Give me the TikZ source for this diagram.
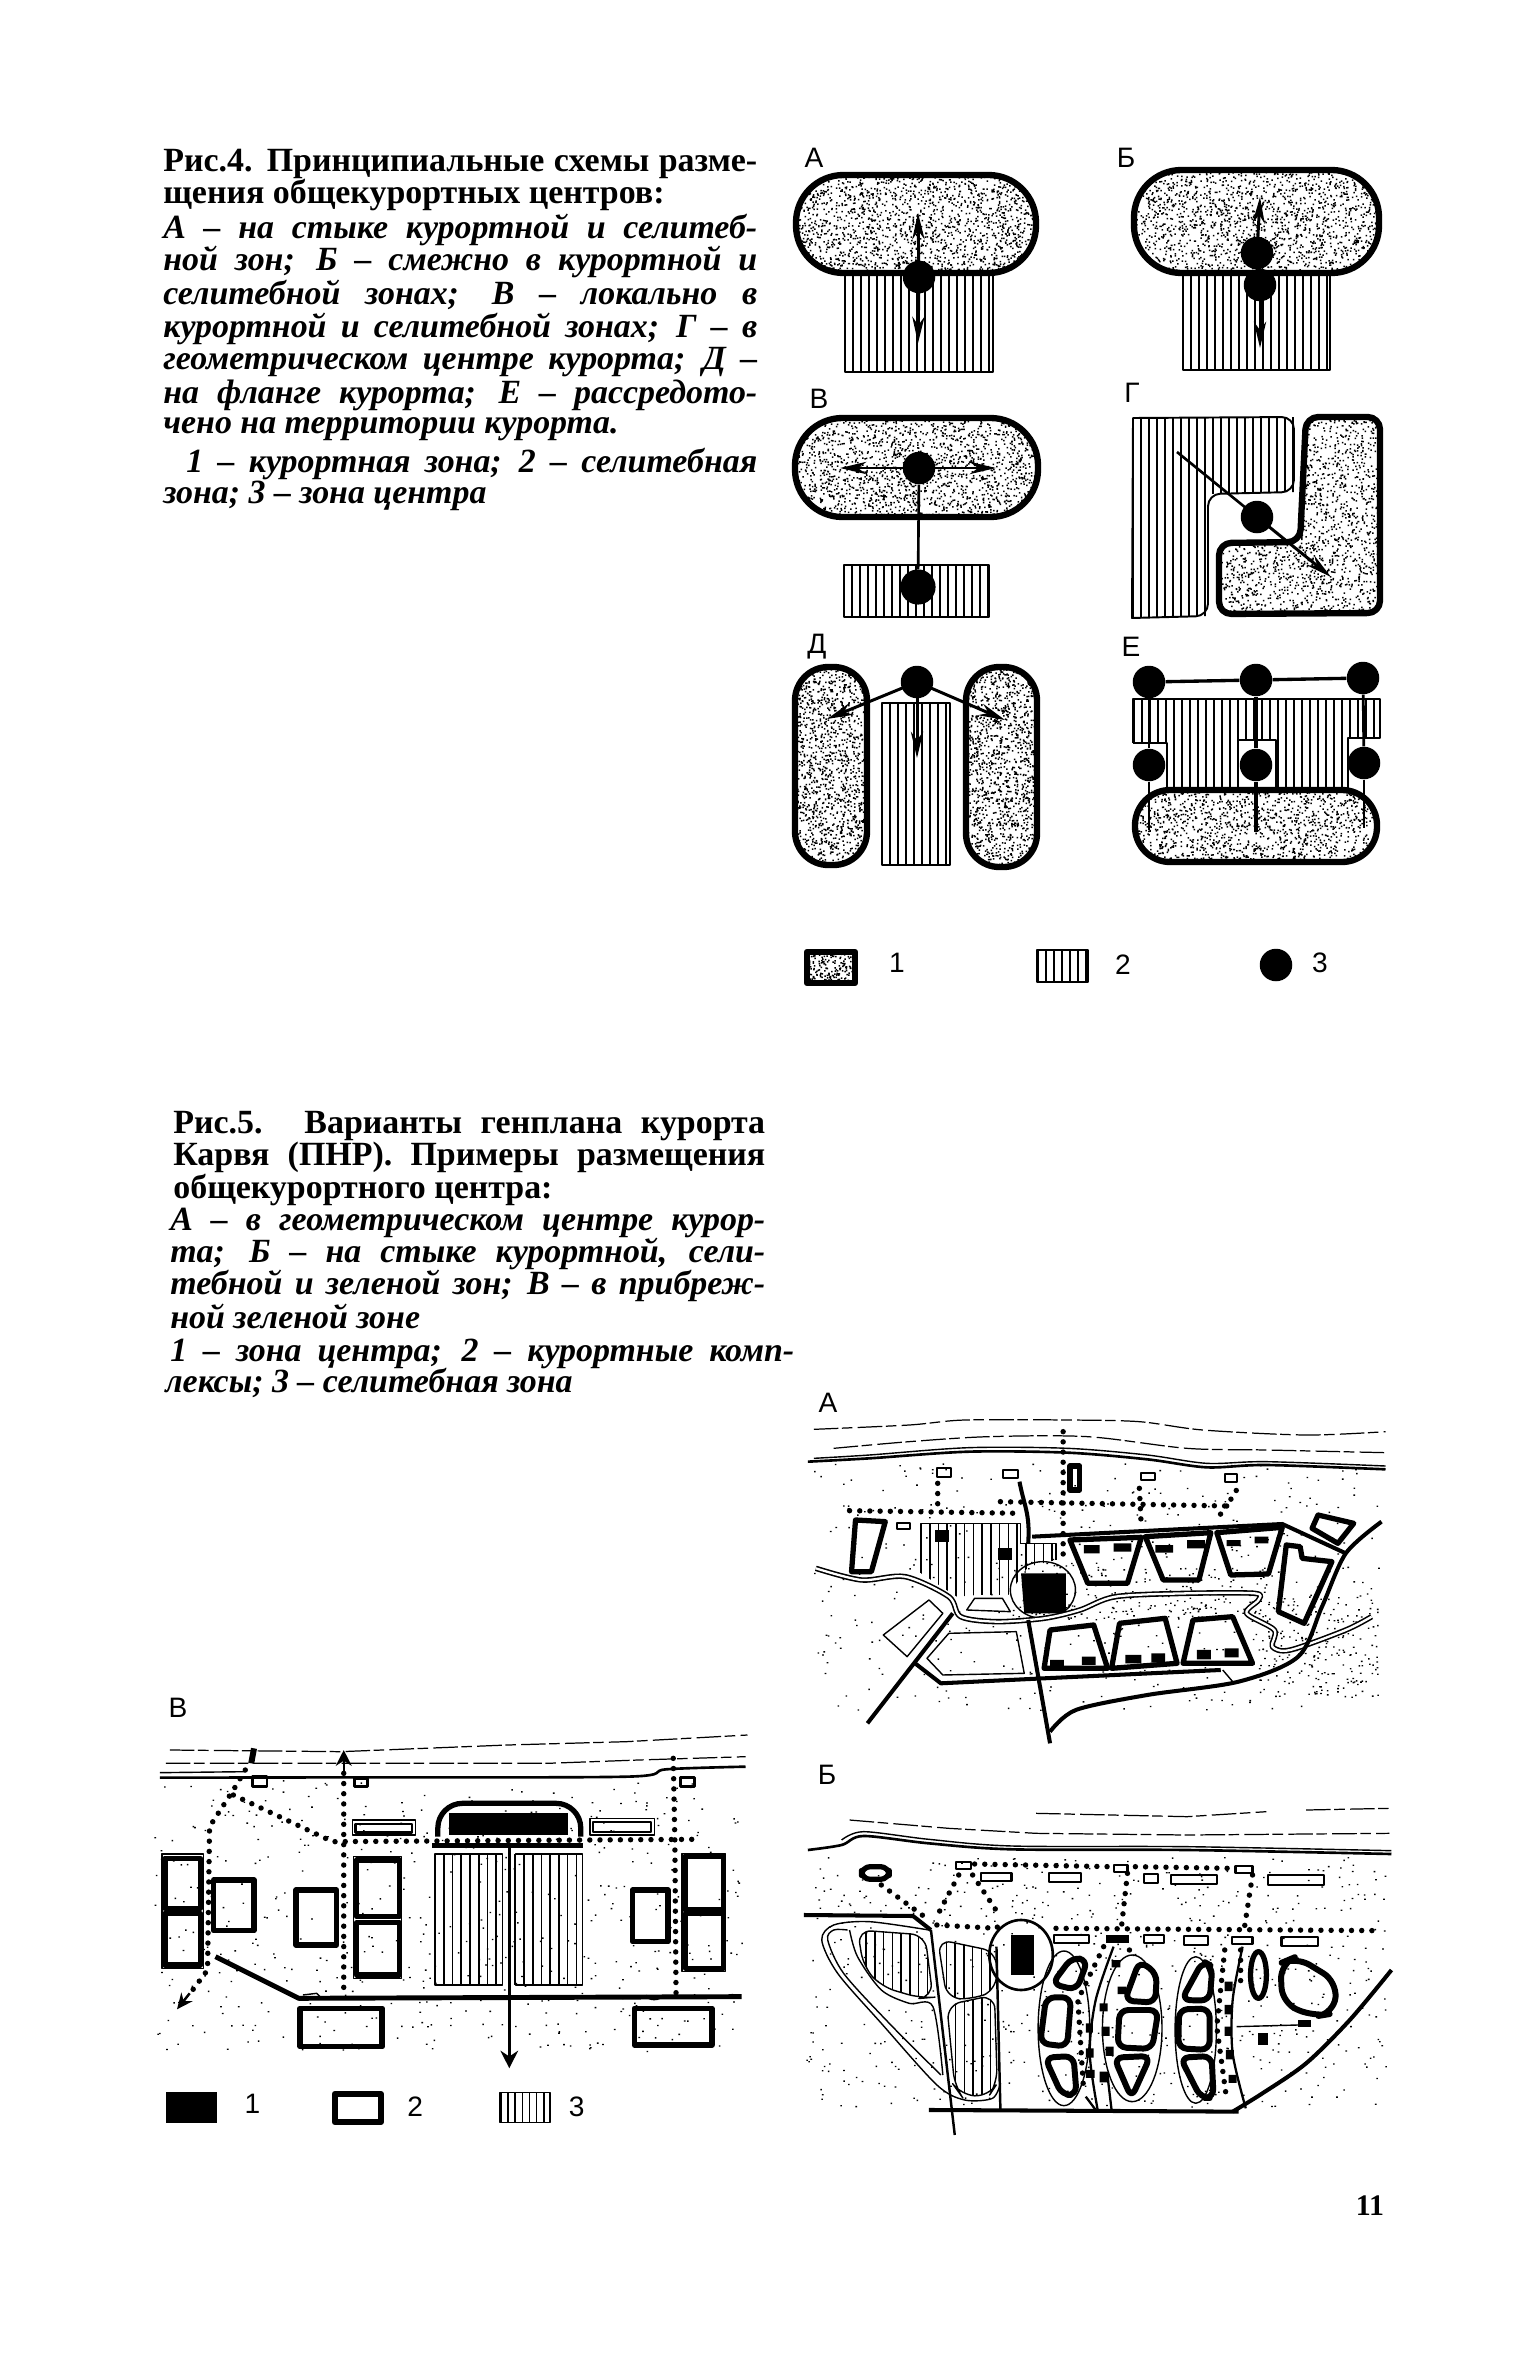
\documentclass[tikz,border=0pt]{standalone}
\usepackage{fontspec}
\setmainfont{Liberation Serif}
\setsansfont{Liberation Sans}
\usetikzlibrary{arrows.meta,calc}

\tikzset{
  zoneedge/.style={line width=3.6pt,line join=round},
  thinedge/.style={line width=1.1pt,line join=round},
  hatchline/.style={line width=0.9pt},
  zonedot/.style={circle,fill=black,inner sep=0pt,minimum width=18.5pt,minimum height=17pt},
  stem/.style={line width=1.7pt,-{Stealth[length=15pt,width=7pt]}},
  capbold/.style={anchor=base west,inner sep=0pt,font=\fontsize{19.3}{22}\selectfont\bfseries},
  capital/.style={anchor=base west,inner sep=0pt,font=\fontsize{19.3}{22}\selectfont\bfseries\itshape},
  panel/.style={inner sep=0pt,font=\fontsize{16}{18}\selectfont\sffamily},
  road/.style={line width=3.1pt,line cap=round,dash pattern=on 0pt off 5.8pt},
  heavy/.style={line width=2.3pt,line join=round},
  wall/.style={line width=3pt,line join=round},
  slim/.style={line width=0.8pt,line join=round},
  shore/.style={line width=1.5pt},
  wave/.style={line width=0.7pt,dash pattern=on 14pt off 2pt on 6pt off 3pt},
  river/.style={line width=0.9pt,double,double distance=1.3pt},
}

\newcommand{\speckle}[6]{\fill foreach \k in {1,...,#5} {({#1+rnd*(#3-#1)},{#2+rnd*(#4-#2)}) rectangle +(#6,#6)};}
\newcommand{\hatching}[5]{\pgfmathtruncatemacro{\hn}{(#3-#1)/#5}
  \draw[hatchline] foreach \k in {0,...,\hn} {({#1+\k*#5},#2) -- ({#1+\k*#5},#4)};}
\newcommand{\pillzone}[6]{\begin{scope}\clip[rounded corners=#5] (#1,#2) rectangle (#3,#4);
    \speckle{#1}{#2}{#3}{#4}{#6}{1.5}\end{scope}
  \draw[zoneedge,rounded corners=#5] (#1,#2) rectangle (#3,#4);}
\newcommand{\hatchzone}[4]{\hatching{#1}{#2}{#3}{#4}{8}
  \draw[thinedge] (#1,#2) rectangle (#3,#4);}

\begin{document}
\begin{tikzpicture}[x=0.02cm,y=-0.02cm,>=Stealth,line join=round]
  \useasboundingbox (0,0) rectangle (1536,2362);
  \fill[white] (0,0) rectangle (1536,2362);
  \pgfmathsetseed{41}

  % text of fig. 4
  \node[capbold] (capa1) at (163,172) {\makebox[11.88cm][s]{Рис.4. Принципиальные схемы разме-}};
  \node[capbold] (capa2) at (163,204) {щения общекурортных центров:};
  \node[capital] (capa3) at (163,238) {\makebox[11.88cm][s]{А – на стыке курортной и селитеб-}};
  \node[capital] (capa4) at (163,270) {\makebox[11.88cm][s]{ной зон; Б – смежно в курортной и}};
  \node[capital] (capa5) at (163,304) {\makebox[11.88cm][s]{селитебной зонах; В – локально в}};
  \node[capital] (capa6) at (163,337) {\makebox[11.88cm][s]{курортной и селитебной зонах; Г – в}};
  \node[capital] (capa7) at (163,369) {\makebox[11.88cm][s]{геометрическом центре курорта; Д –}};
  \node[capital] (capa8) at (163,403) {\makebox[11.88cm][s]{на фланге курорта; Е – рассредото-}};
  \node[capital] (capa9) at (163,433) {чено на территории курорта.};
  \node[capital] (capa10) at (186,472) {\makebox[11.42cm][s]{1 – курортная зона; 2 – селитебная}};
  \node[capital] (capa11) at (163,503) {зона; 3 – зона центра};

  % panel labels
  \node[panel] (labA) at (814,158) {А};
  \node[panel] (labB) at (1126,158) {Б};
  \node[panel] (labV) at (819,399) {В};
  \node[panel] (labG) at (1132,393) {Г};
  \node[panel] (labD) at (817,647) {Д};
  \node[panel] (labE) at (1131,647) {Е};

  % A
  \hatchzone{845}{273}{993}{372}
  \pillzone{796}{175}{1036}{273}{27pt}{1800}
  \node[zonedot] (dotA) at (919,277) {};
  \coordinate (upA) at (918,213);
  \coordinate (downA) at (918,343);
  \draw[stem] (dotA.center) -- (upA);
  \draw[stem] (dotA.center) -- (downA);

  % B
  \hatchzone{1183}{273}{1330}{370}
  \pillzone{1134}{170}{1379}{273}{27pt}{1800}
  \node[zonedot] (dotBa) at (1257,253) {};
  \node[zonedot] (dotBb) at (1260,285) {};
  \coordinate (upB) at (1260,197);
  \coordinate (downB) at (1260,348);
  \draw[stem] (dotBa.center) -- (upB);
  \draw[stem] (dotBb.center) -- (downB);

  % V
  \hatchzone{844}{565}{989}{617}
  \pillzone{795}{418}{1038}{517}{27pt}{1800}
  \node[zonedot] (dotVa) at (919,468) {};
  \node[zonedot,minimum height=20pt] (dotVb) at (918,587) {};
  \coordinate (leftV) at (840,468);
  \coordinate (rightV) at (996,468);
  \draw[stem] (dotVa.center) -- (leftV);
  \draw[stem] (dotVa.center) -- (rightV);
  \draw[line width=1.5pt] (dotVa) -- (dotVb);

  % G
  \begin{scope}
    \clip (1133,418) -- (1294,417) -- (1294,492) -- (1208,494) -- (1208,616) -- (1132,618) -- cycle;
    \hatching{1133}{415}{1296}{620}{8}
  \end{scope}
  \draw[thinedge] (1133,418) [rounded corners=7pt] -- (1294,417) -- (1294,492) -- (1208,494) -- (1208,616) [sharp corners] -- (1132,618) -- cycle;
  \begin{scope}
    \clip[rounded corners=7pt] (1306,417) -- (1380,417) -- (1380,613) -- (1219,614) -- (1219,543) -- (1300,542) -- cycle;
    \speckle{1219}{417}{1380}{614}{2000}{1.5}
  \end{scope}
  \draw[zoneedge,rounded corners=7pt] (1306,417) -- (1380,417) -- (1380,613) -- (1219,614) -- (1219,543) -- (1300,542) -- cycle;
  \node[zonedot] (dotG) at (1257,517) {};
  \coordinate (tailG) at (1177,452);
  \coordinate (tipG) at (1331,577);
  \draw[line width=1.5pt] (dotG.center) -- (tailG);
  \draw[stem] (dotG.center) -- (tipG);

  % D
  \hatchzone{882}{703}{950}{865}
  \pillzone{795}{667}{867}{865}{19pt}{1300}
  \pillzone{966}{667}{1037}{867}{19pt}{1300}
  \node[zonedot] (dotD) at (917,682) {};
  \coordinate (tipDl) at (827,719);
  \coordinate (tipDr) at (1005,720);
  \coordinate (tipDd) at (917,758);
  \draw[stem] (dotD.center) -- (tipDl);
  \draw[stem] (dotD.center) -- (tipDr);
  \draw[stem] (dotD.center) -- (tipDd);

  % E
  \begin{scope}
    \clip (1133,699) -- (1380,699) -- (1380,738) -- (1348,738) -- (1348,792) -- (1276,792) -- (1276,740) -- (1238,740) -- (1238,792) -- (1167,792) -- (1167,743) -- (1133,743) -- cycle;
    \hatching{1134}{697}{1382}{795}{8}
  \end{scope}
  \draw[thinedge] (1133,743) -- (1133,699) -- (1380,699) -- (1380,738) -- (1348,738) -- (1348,792) (1276,792) -- (1276,740) -- (1238,740) -- (1238,792) (1167,792) -- (1167,743) -- (1133,743);
  \pillzone{1135}{790}{1377}{862}{20pt}{1300}
  \node[zonedot] (dotEa) at (1149,682) {};
  \node[zonedot] (dotEb) at (1256,680) {};
  \node[zonedot] (dotEc) at (1363,678) {};
  \node[zonedot] (dotEd) at (1149,765) {};
  \node[zonedot] (dotEe) at (1256,765) {};
  \node[zonedot] (dotEf) at (1364,763) {};
  \coordinate (endEd) at (1149,830);
  \coordinate (endEe) at (1256,832);
  \coordinate (endEf) at (1364,828);
  \draw[line width=1.9pt] (dotEa) -- (dotEb);
  \draw[line width=1.9pt] (dotEb) -- (dotEc);
  \draw[line width=1.6pt] (dotEa) -- (dotEd);
  \draw[line width=2pt] (dotEb) -- (dotEe);
  \draw[line width=1.6pt] (dotEc) -- (dotEf);
  \draw[line width=1.6pt] (dotEd) -- (endEd);
  \draw[line width=2pt] (dotEe) -- (endEe);
  \draw[line width=1.6pt] (dotEf) -- (endEf);

  % legend of fig. 4
  \begin{scope}
    \clip (805,950) rectangle (857,985);
    \speckle{805}{950}{857}{985}{220}{1.5}
  \end{scope}
  \draw[line width=3.6pt] (807,952) rectangle (855,983);
  \node[panel] (keyAa) at (897,963) {1};
  \hatching{1038}{950}{1088}{982}{8}
  \draw[thinedge] (1037,950) rectangle (1088,982);
  \node[panel] (keyAb) at (1123,965) {2};
  \node[zonedot] (keyAdot) at (1276,965) {};
  \node[panel] (keyAc) at (1320,963) {3};

  % text of fig. 5
  \node[capbold] (capb1) at (173,1133) {\makebox[11.84cm][s]{Рис.5. Варианты генплана курорта}};
  \node[capbold] (capb2) at (173,1165) {\makebox[11.84cm][s]{Карвя (ПНР). Примеры размещения}};
  \node[capbold] (capb3) at (173,1198) {общекурортного центра:};
  \node[capital] (capb4) at (170,1230) {\makebox[11.9cm][s]{А – в геометрическом центре курор-}};
  \node[capital] (capb5) at (170,1262) {\makebox[11.9cm][s]{та; Б – на стыке курортной, сели-}};
  \node[capital] (capb6) at (170,1294) {\makebox[11.9cm][s]{тебной и зеленой зон; В – в прибреж-}};
  \node[capital] (capb7) at (170,1328) {ной зеленой зоне};
  \node[capital] (capb8) at (170,1361) {\makebox[12.48cm][s]{1 – зона центра; 2 – курортные комп-}};
  \node[capital] (capb9) at (165,1392) {лексы; 3 – селитебная зона};

  \node[panel] (labPa) at (828,1403) {А};
  \node[panel] (labPb) at (827,1775) {Б};
  \node[panel] (labPc) at (178,1708) {В};
  \node[inner sep=0pt,font=\fontsize{17}{20}\selectfont\bfseries] (pageno) at (1370,2206) {11};

  % plan A
  \begin{scope}[shift={(790,1380)},xscale=0.397,yscale=0.3333]
    \speckle{60}{250}{1490}{990}{420}{4}
    \speckle{1180}{650}{1480}{950}{200}{4}
    \speckle{680}{560}{1200}{720}{170}{4}
    \draw[wave] plot[smooth] coordinates {(60,148) (300,135) (440,120) (700,120) (880,125) (1040,150) (1300,165) (1500,155)};
    \draw[wave] plot[smooth] coordinates {(110,205) (300,185) (500,170) (750,170) (1000,205) (1200,210) (1500,218)};
    \draw[shore] plot[smooth] coordinates {(45,245) (200,235) (450,215) (700,218) (900,238) (1050,262) (1200,255) (1500,268)};
    \draw[slim] plot[smooth] coordinates {(60,235) (200,225) (450,203) (700,205) (900,225) (1050,250) (1200,245) (1500,258)};
    % hatched block
    \begin{scope}
      \clip (330,430) -- (580,430) -- (580,490) -- (670,490) -- (670,540) -- (600,560) -- (550,645) -- (470,645) -- (420,650) -- (330,580) -- cycle;
      \hatching{330}{425}{680}{655}{22}
    \end{scope}
    \draw[slim] (580,490) -- (580,430) -- (330,430) -- (330,580);
    \draw[slim] (580,490) -- (670,490) -- (670,540);
    \fill (365,450) rectangle (400,485);
    \fill (525,505) rectangle (560,540);
    % centre
    \speckle{560}{545}{715}{715}{60}{4}
    \draw[slim] (637,630) ellipse (82 and 85);
    \fill (582,580) -- (695,580) -- (695,700) -- (590,700) -- cycle;
    % roads of dots
    \draw[road] (150,392) -- (580,400);
    \draw[road] (530,365) -- (1100,378) -- (1130,320);
    \draw[road] (1100,378) -- (1070,425);
    \draw[road] (372,310) -- (372,392);
    \draw[road] (880,325) -- (885,445);
    \draw[road] (688,155) -- (688,540);
    \draw[heavy] (578,305) .. controls (590,380) and (605,400) .. (600,490);
    % small blocks
    \draw[wall,line width=1.2pt] (370,265) rectangle (405,290);
    \draw[wall,line width=1.2pt] (537,270) rectangle (575,295);
    \draw[wall,line width=1.2pt] (885,278) rectangle (920,300);
    \draw[wall,line width=1.2pt] (1095,282) rectangle (1125,305);
    \draw[wall,line width=1.2pt] (270,428) rectangle (303,447);
    \draw[wall] (705,258) rectangle (730,330);
    \draw[wall] (165,420) -- (240,425) -- (205,575) -- (155,575) -- cycle;
    % upper complexes
    \draw[heavy] (610,470) -- (1240,432) -- (1400,520);
    \draw[wall] (705,480) -- (885,472) -- (850,610) -- (750,610) -- cycle;
    \draw[wall] (895,470) -- (1060,458) -- (1030,600) -- (940,600) -- cycle;
    \draw[wall] (1075,458) -- (1240,442) -- (1205,582) -- (1110,585) -- cycle;
    \fill (740,495) rectangle (780,520) (815,490) rectangle (860,515);
    \fill (920,495) rectangle (965,518) (1000,480) rectangle (1045,505);
    \fill (1100,480) rectangle (1135,498) (1170,470) rectangle (1205,490);
    % lower complexes
    \draw[wall] (655,750) -- (765,735) -- (800,865) -- (640,865) -- cycle;
    \draw[wall] (830,730) -- (945,715) -- (975,850) -- (810,865) -- cycle;
    \draw[wall] (1015,720) -- (1115,710) -- (1165,850) -- (990,850) -- cycle;
    \fill (655,840) rectangle (690,860) (735,830) rectangle (770,855);
    \fill (845,825) rectangle (885,850) (910,820) rectangle (945,848);
    \fill (1025,810) rectangle (1060,838) (1095,805) rectangle (1130,832);
    % river and streets
    \draw[river] plot[smooth] coordinates {(65,565) (180,600) (290,590) (400,650) (430,710) (520,725) (640,715) (730,690) (820,650) (1000,640) (1170,640) (1180,660) (1150,700) (1220,750) (1215,800) (1260,810) (1400,750) (1465,710)};
    \draw[slim] (350,660) -- (385,700) -- (295,830) -- (235,765) -- cycle;
    \draw[slim] (400,760) -- (570,755) -- (590,880) -- (385,885) -- (345,835) -- cycle;
    \draw[slim] (445,690) -- (465,655) -- (535,655) -- (555,695) -- cycle;
    \draw[heavy] (1085,870) -- (640,895) -- (380,910) -- (315,850);
    \draw[heavy] (410,700) -- (195,1030);
    \draw[heavy] (600,720) -- (655,1090);
    \draw[heavy] plot[smooth] coordinates {(655,1055) (720,990) (900,945) (1130,905) (1280,830) (1340,680) (1400,520) (1490,425)};
    \draw[slim] (1090,870) -- (1115,905);
    \draw[wall] (1330,405) -- (1420,430) -- (1380,490) -- (1315,445) -- cycle;
    \draw[wall] (1250,495) -- (1285,500) -- (1290,535) -- (1365,545) -- (1295,730) -- (1230,695) -- cycle;
  \end{scope}

  % plan B
  \begin{scope}[shift={(790,1760)},xscale=0.397,yscale=0.3333]
    \speckle{40}{290}{1500}{1040}{620}{4}
    \draw[wave] (620,160) -- (1000,170) -- (1200,155);
    \draw[wave] (1300,150) -- (1510,145);
    \draw[wave] (150,180) -- (400,205) -- (620,220) -- (1000,225) -- (1510,220);
    \draw[shore] plot[smooth] coordinates {(45,270) (130,255) (185,228) (350,250) (560,268) (1000,270) (1515,282)};
    \draw[slim] plot[smooth] coordinates {(130,240) (185,215) (350,238) (560,258) (1000,260) (1515,272)};
    \draw[wall,rounded corners=5pt] (180,320) rectangle (250,358);
    \draw[slim,line width=1.2pt] (418,305) rectangle (455,328);
    \draw[slim,line width=1.2pt] (480,338) rectangle (558,362);
    \draw[slim,line width=1.2pt] (652,338) rectangle (733,365);
    \draw[slim,line width=1.2pt] (815,315) rectangle (850,335);
    \draw[slim,line width=1.2pt] (892,343) rectangle (928,368);
    \draw[slim,line width=1.2pt] (960,345) rectangle (1075,372);
    \draw[slim,line width=1.2pt] (1122,318) rectangle (1165,340);
    \draw[slim,line width=1.2pt] (1203,345) rectangle (1345,375);
    \draw[slim,line width=1.2pt] (665,525) rectangle (752,548);
    \draw[slim,line width=1.2pt] (892,525) rectangle (942,550);
    \draw[slim,line width=1.2pt] (993,528) rectangle (1052,555);
    \draw[slim,line width=1.2pt] (1113,532) rectangle (1165,553);
    \draw[slim,line width=1.2pt] (1238,532) rectangle (1330,558);
    \fill (795,525) rectangle (855,550);
    % roads of dots
    \draw[road] (465,312) -- (805,320);
    \draw[road] (870,320) -- (1110,325);
    \draw[road] (230,375) -- (350,480);
    \draw[road] (425,345) -- (365,480);
    \draw[road] (460,345) -- (530,470);
    \draw[road] (850,340) -- (835,500);
    \draw[road] (1165,345) -- (1145,500);
    \draw[road] (370,495) -- (520,505) -- (535,480);
    \draw[road] (670,505) -- (1490,512);
    % hatched blobs
    \begin{scope}
      \clip[rounded corners=8pt] (170,510) -- (340,525) -- (360,712) -- (330,715) -- (230,680) -- (185,620) -- cycle;
      \hatching{170}{505}{365}{720}{22}
    \end{scope}
    \draw[slim,rounded corners=8pt] (170,510) -- (340,525) -- (360,712) -- (330,715) -- (230,680) -- (185,620) -- cycle;
    \begin{scope}
      \clip[rounded corners=8pt] (372,538) -- (520,575) -- (520,690) -- (460,718) -- (395,715) -- cycle;
      \hatching{372}{535}{525}{720}{22}
    \end{scope}
    \draw[slim,rounded corners=8pt] (372,538) -- (520,575) -- (520,690) -- (460,718) -- (395,715) -- cycle;
    \begin{scope}
      \clip[rounded corners=8pt] (395,735) -- (515,705) -- (522,970) -- (500,1010) -- (430,1005) -- (415,980) -- cycle;
      \hatching{395}{700}{525}{1015}{22}
    \end{scope}
    \draw[slim,rounded corners=8pt] (395,735) -- (515,705) -- (522,970) -- (500,1010) -- (430,1005) -- (415,980) -- cycle;
    % green zone
    \draw[slim] plot[smooth] coordinates {(350,510) (200,485) (110,495) (80,540) (120,640) (230,790) (370,975) (440,1020) (510,1015) (530,970)};
    \draw[slim] plot[smooth] coordinates {(145,510) (110,510) (95,540) (135,640) (250,790) (380,945)};
    \draw[slim] plot[smooth] coordinates {(150,510) (170,590) (230,690) (300,730) (360,740) (385,945)};
    % streets
    \draw[heavy] (35,465) -- (310,468) -- (355,510);
    \draw[heavy,line width=1.4pt] (355,510) -- (415,1125);
    \draw[heavy,line width=1.4pt] (520,560) -- (530,1050);
    \draw[heavy] (350,1050) -- (1130,1055);
    \draw[heavy] plot[smooth] coordinates {(1115,1055) (1190,1000) (1300,910) (1410,780) (1515,630)};
    % centre
    \draw[wall,line width=1.5pt] (582,585) ellipse (80 and 105);
    \fill (557,525) rectangle (615,645);
    % complexes
    \draw[slim] (690,805) ellipse (65 and 232);
    \draw[slim] (862,805) ellipse (75 and 220);
    \draw[slim] (1022,810) ellipse (52 and 220);
    \draw[wall,line width=3.4pt,rounded corners=5pt] (660,672) -- (710,592) -- (750,600) -- (722,690) -- cycle;
    \draw[wall,line width=3.4pt,rounded corners=5pt] (645,712) -- (708,712) -- (698,860) -- (630,850) -- cycle;
    \draw[wall,line width=3.4pt,rounded corners=5pt] (642,893) -- (714,888) -- (722,1005) -- (685,1005) -- cycle;
    \draw[wall,line width=3.4pt,rounded corners=5pt] (843,722) -- (880,603) -- (924,640) -- (920,728) -- cycle;
    \draw[wall,line width=3.4pt,rounded corners=5pt] (830,750) -- (928,750) -- (912,867) -- (825,862) -- cycle;
    \draw[wall,line width=3.4pt,rounded corners=5pt] (816,893) -- (908,888) -- (860,1014) -- cycle;
    \draw[wall,line width=3.4pt,rounded corners=5pt] (986,720) -- (1040,603) -- (1064,620) -- (1057,722) -- cycle;
    \draw[wall,line width=3.4pt,rounded corners=5pt] (980,748) -- (1057,746) -- (1057,870) -- (978,865) -- cycle;
    \draw[wall,line width=3.4pt,rounded corners=5pt] (983,893) -- (1062,888) -- (1067,1014) -- (1035,1014) -- cycle;
    \draw[wall] (1180,645) ellipse (20 and 70);
    \draw[wall,line width=3.4pt,rounded corners=9pt] (1235,610) -- (1275,590) -- (1378,665) -- (1370,760) -- (1320,770) -- (1240,730) -- cycle;
    \fill (1280,780) rectangle (1312,802);
    \fill (1180,820) rectangle (1203,855);
    \draw[slim] (1125,800) -- (1280,795);
    % strip between complexes
    \draw[road] (790,560) -- (725,720) -- (740,1000);
    \draw[road] (855,570) -- (850,590);
    \draw[road] (1095,570) -- (1075,800) -- (1100,1020);
    \draw[road] (1135,570) -- (1135,680);
    \draw[slim,line width=1.3pt] plot[smooth] coordinates {(815,560) (770,720) (755,880) (775,1050)};
    \draw[slim,line width=1.3pt] plot[smooth] coordinates {(1140,560) (1115,720) (1115,880) (1148,1045)};
    \draw[slim,line width=1.3pt] (745,1010) -- (770,1050);
    \draw[slim,line width=1.3pt] (800,950) -- (810,1050);
    \fill (810,600) rectangle +(22,22) (825,680) rectangle +(22,22) (780,730) rectangle +(20,24);
    \fill (745,790) rectangle +(18,28) (785,800) rectangle +(20,28) (745,865) rectangle +(20,28);
    \fill (795,860) rectangle +(20,28) (780,935) rectangle +(24,32) (745,930) rectangle +(22,24);
    \fill (1095,665) rectangle +(20,28) (1095,735) rectangle +(20,28) (1095,800) rectangle +(18,28);
    \fill (1098,870) rectangle +(20,28) (1105,945) rectangle +(20,24);
  \end{scope}

  % plan V
  \begin{scope}[shift={(150,1700)},xscale=0.397,yscale=0.3333]
    \speckle{10}{240}{1490}{1060}{520}{4}
    \draw[wave] (50,150) -- (480,155) -- (900,135) -- (1200,125) -- (1505,105);
    \draw[wave] (40,190) -- (500,190) -- (1000,190) -- (1230,180) -- (1500,170);
    \draw[shore] plot[smooth] coordinates {(25,233) (500,232) (1200,230) (1300,208) (1500,200)};
    \draw[slim] (25,218) -- (240,215);
    \draw[line width=3.4pt] (262,145) -- (255,190);
    % roads of dots
    \draw[road] (240,210) -- (210,270) -- (150,380) -- (145,810) -- (95,890);
    \draw[road] (210,285) -- (460,425) -- (1370,418);
    \draw[road] (488,220) -- (488,890);
    \draw[road] (1318,175) -- (1322,420) -- (1325,880);
    \coordinate (tailVa) at (100,880);
    \coordinate (tipVa) at (68,928);
    \draw[line width=1.4pt,-{Stealth[length=9pt,width=8pt]}] (tailVa) -- (tipVa);
    \coordinate (tailVb) at (488,212);
    \coordinate (tipVb) at (488,150);
    \draw[line width=1.4pt,-{Stealth[length=9pt,width=9pt]}] (tailVb) -- (tipVb);
    % small blocks
    \draw[wall,line width=1.5pt] (258,230) rectangle (295,260);
    \draw[wall,line width=1.5pt] (515,235) rectangle (548,260);
    \draw[wall,line width=1.5pt] (1337,232) rectangle (1372,260);
    \draw[slim] (510,360) rectangle (668,405);
    \draw[wall,line width=1.6pt] (518,372) rectangle (660,398);
    \draw[slim] (1108,355) rectangle (1270,405);
    \draw[wall,line width=1.6pt] (1116,366) rectangle (1262,396);
    % centre
    \draw[wall,rounded corners=14pt] (725,410) -- (725,310) -- (1085,310) -- (1085,410);
    \fill (752,340) rectangle (1052,405);
    \fill (710,430) rectangle (1090,445);
    % hatched zone
    \hatching{718}{462}{888}{855}{22}
    \hatching{920}{462}{1090}{855}{22}
    \draw[slim] (718,462) rectangle (888,855);
    \draw[slim] (920,462) rectangle (1090,855);
    % complexes
    \draw[slim] (30,462) rectangle (135,805);
    \draw[wall] (38,475) rectangle (128,625);
    \draw[wall] (38,640) rectangle (128,795);
    \draw[wall] (160,540) rectangle (262,692);
    \draw[wall] (368,570) rectangle (470,735);
    \draw[slim] (513,470) rectangle (633,835);
    \draw[wall] (520,480) rectangle (628,650);
    \draw[wall] (520,668) rectangle (628,825);
    \draw[wall] (1215,570) rectangle (1305,725);
    \draw[slim] (1340,460) rectangle (1450,815);
    \draw[wall] (1348,468) rectangle (1445,630);
    \draw[wall] (1348,640) rectangle (1445,805);
    \draw[wall,line width=3.2pt] (378,925) rectangle (585,1040);
    \draw[wall,line width=3.2pt] (1220,925) rectangle (1415,1035);
    % streets
    \draw[line width=2.8pt] (165,770) -- (375,895) -- (1490,890);
    \draw[slim] (385,885) -- (420,880) -- (432,895);
    \draw[slim] (1250,885) arc (180:0:20 and 14);
    \coordinate (startVc) at (905,445);
    \coordinate (tipVc) at (905,1105);
    \draw[line width=1.5pt,-{Stealth[length=10pt,width=10pt]}] (startVc) -- (tipVc);
    % legend
    \fill (40,1175) rectangle (168,1270);
    \node[panel] (keyBa) at (258,1212) {1};
    \draw[wall,line width=3.4pt] (465,1182) rectangle (582,1266);
    \node[panel] (keyBb) at (668,1220) {2};
    \hatching{884}{1178}{1008}{1268}{18}
    \draw[slim] (882,1178) rectangle (1008,1268);
    \node[panel] (keyBc) at (1075,1220) {3};
  \end{scope}
\end{tikzpicture}
\end{document}
